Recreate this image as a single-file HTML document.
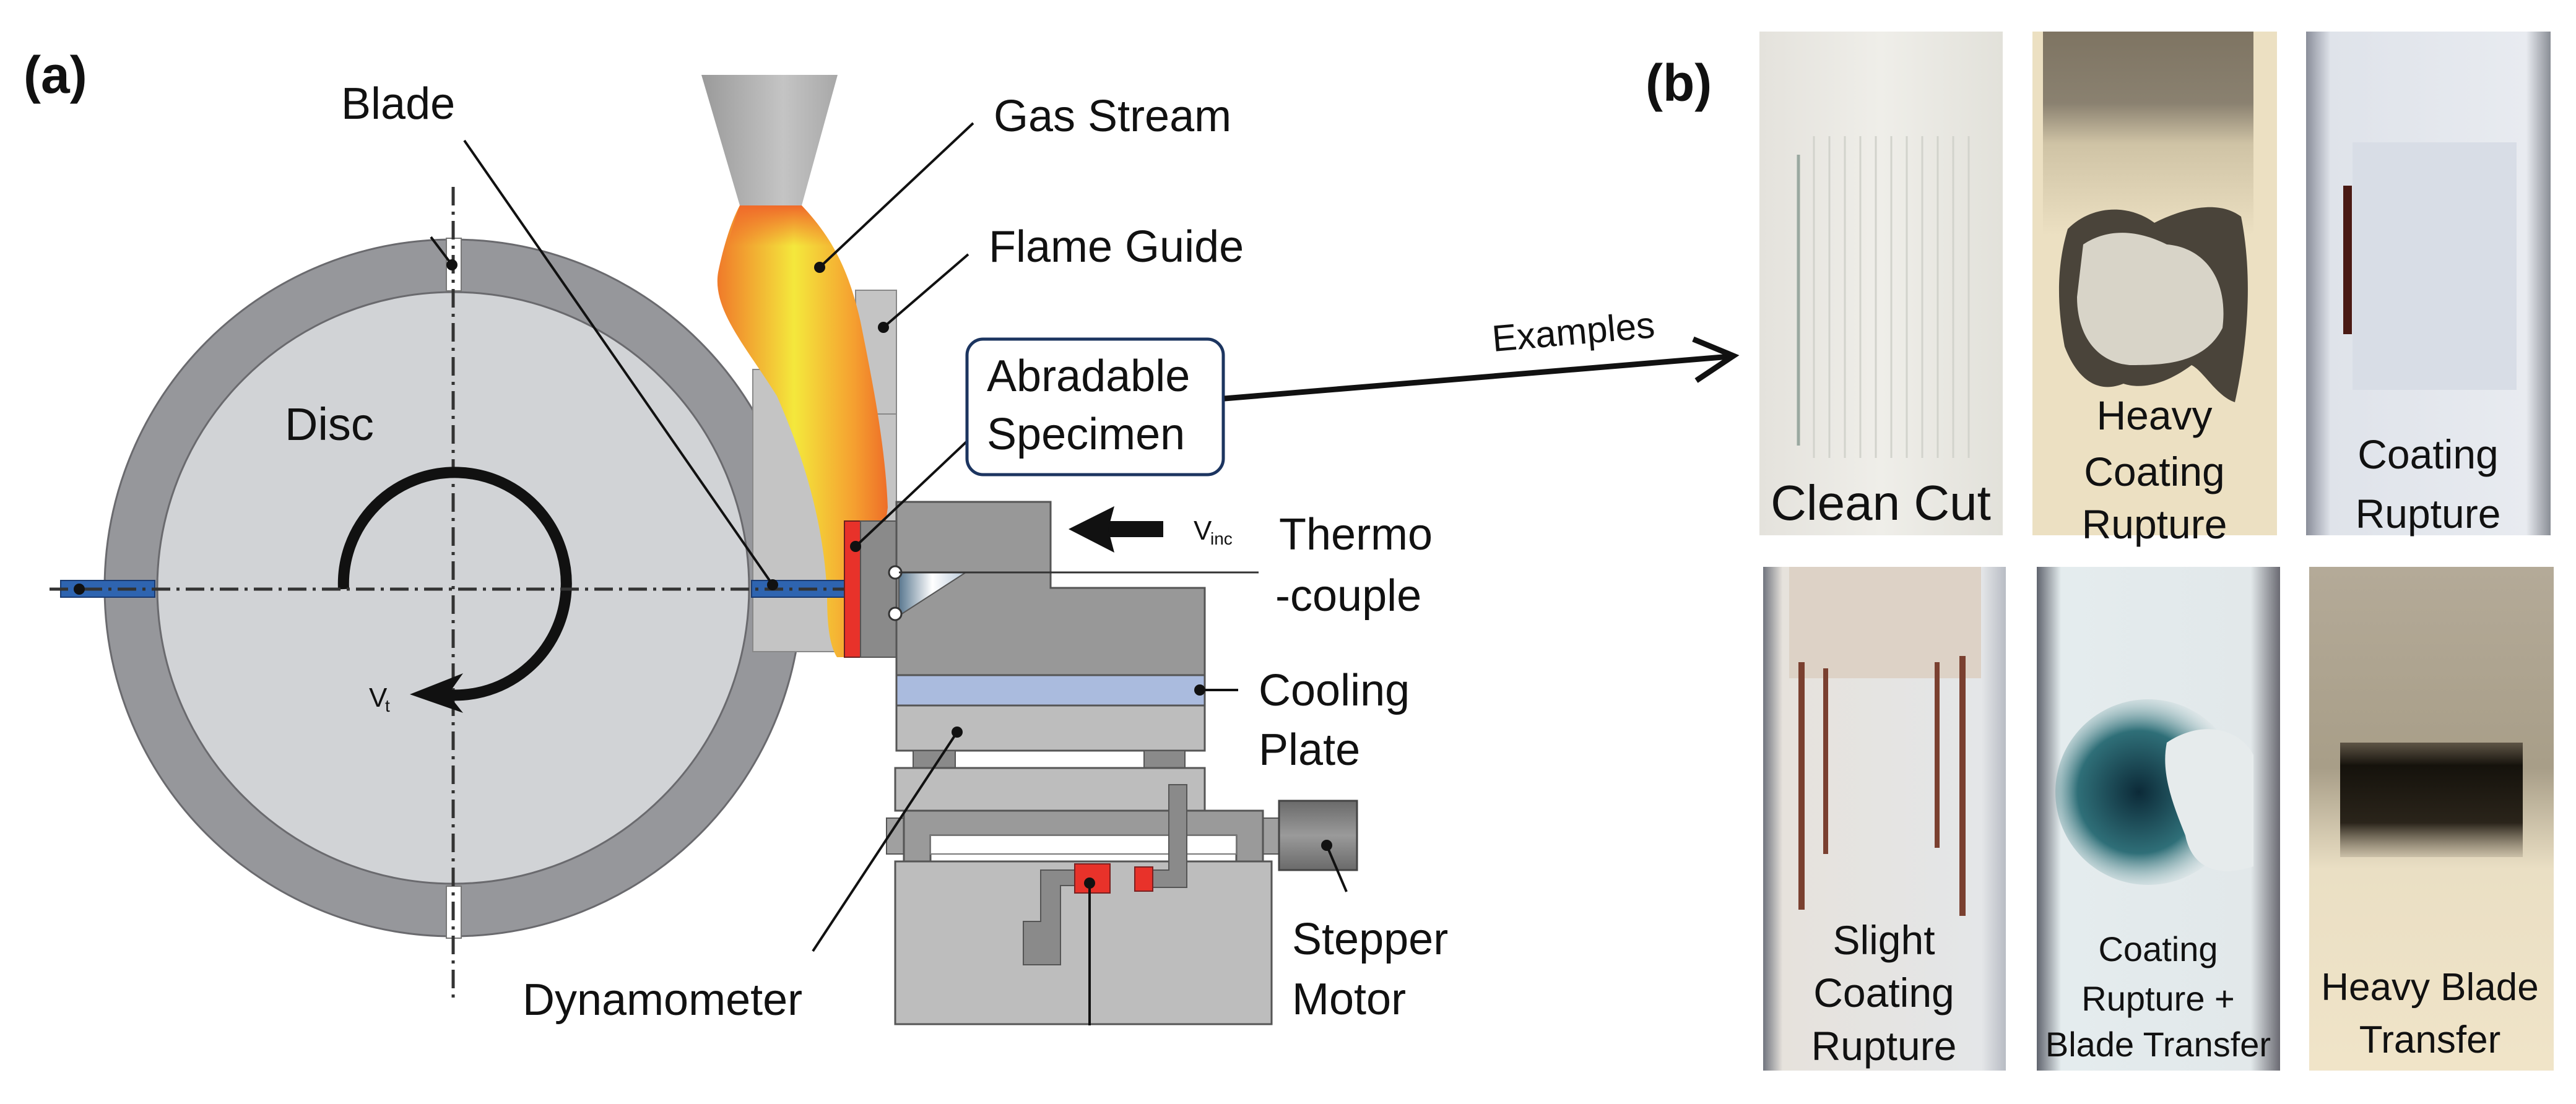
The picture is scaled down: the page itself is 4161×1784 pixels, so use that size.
<!DOCTYPE html>
<html><head><meta charset="utf-8"><style>
html,body{margin:0;padding:0;background:#fff;}
svg{display:block;}
text{font-family:"Liberation Sans",sans-serif;fill:#111;}
</style></head><body>
<svg width="4161" height="1784" viewBox="0 0 4161 1784" xmlns="http://www.w3.org/2000/svg">
<defs>
<linearGradient id="noz" x1="0" x2="1" y1="0" y2="0"><stop offset="0" stop-color="#9a9a9a"/><stop offset="0.6" stop-color="#c4c4c4"/><stop offset="1" stop-color="#a8a8a8"/></linearGradient>
<linearGradient id="flame" x1="0" x2="1" y1="0" y2="0"><stop offset="0" stop-color="#f07a2a"/><stop offset="0.45" stop-color="#f4e83c"/><stop offset="0.8" stop-color="#f5a030"/><stop offset="1" stop-color="#ee6e28"/></linearGradient>
<linearGradient id="flameV" x1="0" x2="0" y1="0" y2="1"><stop offset="0" stop-color="#f06a2a" stop-opacity="1"/><stop offset="0.35" stop-color="#f06a2a" stop-opacity="0"/></linearGradient>
<linearGradient id="tc" x1="0" x2="1"><stop offset="0" stop-color="#5a7890"/><stop offset="0.5" stop-color="#ffffff"/><stop offset="1" stop-color="#b8c8d8"/></linearGradient>
<linearGradient id="mot" x1="0" x2="0" y1="0" y2="1"><stop offset="0" stop-color="#6a6a6a"/><stop offset="0.5" stop-color="#9a9a9a"/><stop offset="1" stop-color="#6a6a6a"/></linearGradient>
<linearGradient id="p1" x1="0" x2="1"><stop offset="0" stop-color="#e4e2dc"/><stop offset="0.5" stop-color="#efeee9"/><stop offset="1" stop-color="#e2e1da"/></linearGradient>
<linearGradient id="p2" x1="0" x2="0" y1="0" y2="1"><stop offset="0" stop-color="#7e7462"/><stop offset="0.35" stop-color="#8a8170"/><stop offset="0.55" stop-color="#cfc3a5"/><stop offset="1" stop-color="#ece0c2"/></linearGradient>
<linearGradient id="p3" x1="0" x2="1"><stop offset="0" stop-color="#8a8e9a"/><stop offset="0.1" stop-color="#dfe3ea"/><stop offset="0.9" stop-color="#e8ebf0"/><stop offset="1" stop-color="#8a8e96"/></linearGradient>
<linearGradient id="p4" x1="0" x2="1"><stop offset="0" stop-color="#70747e"/><stop offset="0.08" stop-color="#e6e2dc"/><stop offset="0.9" stop-color="#e4e6e8"/><stop offset="1" stop-color="#b8bcc4"/></linearGradient>
<linearGradient id="p5" x1="0" x2="1"><stop offset="0" stop-color="#60646e"/><stop offset="0.1" stop-color="#e4ecee"/><stop offset="0.88" stop-color="#e2e8ea"/><stop offset="1" stop-color="#6a6a72"/></linearGradient>
<linearGradient id="p6" x1="0" x2="0" y1="0" y2="1"><stop offset="0" stop-color="#b4aa98"/><stop offset="0.4" stop-color="#a89e88"/><stop offset="0.6" stop-color="#eadfc4"/><stop offset="1" stop-color="#f0e4c8"/></linearGradient>
<radialGradient id="teal" cx="0.45" cy="0.5" r="0.55"><stop offset="0" stop-color="#0c2a38"/><stop offset="0.6" stop-color="#2f6f78"/><stop offset="1" stop-color="#a8c6c8" stop-opacity="0"/></radialGradient>
<linearGradient id="band" x1="0" x2="0" y1="0" y2="1"><stop offset="0" stop-color="#2a2218" stop-opacity="0.6"/><stop offset="0.2" stop-color="#15120c"/><stop offset="0.7" stop-color="#2a241a"/><stop offset="1" stop-color="#6a6050" stop-opacity="0.2"/></linearGradient>
</defs>

<text x="38" y="150" font-size="84" font-weight="bold">(a)</text>

<!-- Disc -->
<circle cx="732" cy="950" r="563" fill="#96979b" stroke="#6a6a6e" stroke-width="3"/>
<circle cx="732" cy="950" r="478" fill="#d1d3d6" stroke="#6a6a6e" stroke-width="3"/>
<rect x="721" y="385" width="24" height="85" fill="#fff" stroke="#777" stroke-width="2"/>
<rect x="721" y="1432" width="24" height="84" fill="#fff" stroke="#777" stroke-width="2"/>
<line x1="732" y1="302" x2="732" y2="1615" stroke="#333" stroke-width="5" stroke-dasharray="30 10 5 10"/>
<text x="460" y="711" font-size="74">Disc</text>
<path d="M 555 952 A 180 180 0 1 1 700 1120" fill="none" stroke="#111" stroke-width="18"/>
<polygon points="662,1122 748,1088 724,1122 748,1152" fill="#111"/>
<text x="596" y="1142" font-size="44" fill="#555">V</text><text x="622" y="1150" font-size="28" fill="#555">t</text>

<!-- Flame guide -->
<rect x="1216" y="597" width="232" height="456" fill="#c4c4c4" stroke="#888" stroke-width="2"/>
<rect x="1382" y="469" width="66" height="200" fill="#c4c4c4" stroke="#888" stroke-width="2"/>
<polygon points="1133,121 1353,121 1295,332 1195,332" fill="url(#noz)"/>
<path d="M1195,332 L1295,332 C1340,380 1370,430 1390,520 C1410,620 1430,720 1434,820 L1400,1062 L1352,1062 C1338,1040 1336,1000 1336,960 C1330,830 1290,720 1255,640 C1205,560 1150,500 1160,440 C1170,390 1185,350 1195,332 Z" fill="url(#flame)"/>
<path d="M1195,332 L1295,332 C1340,380 1370,430 1390,520 L1160,520 C1160,450 1180,370 1195,332 Z" fill="url(#flameV)"/>

<!-- blades -->
<rect x="98" y="938" width="152" height="27" fill="#2e64b0" stroke="#1a3a70" stroke-width="2"/>
<rect x="1214" y="938" width="152" height="27" fill="#2e64b0" stroke="#1a3a70" stroke-width="2"/>
<line x1="80" y1="952" x2="1450" y2="952" stroke="#333" stroke-width="5" stroke-dasharray="30 10 5 10"/>

<rect x="1364" y="842" width="26" height="220" fill="#e8322a" stroke="#6a2020" stroke-width="2"/>
<rect x="1390" y="842" width="58" height="220" fill="#8a8a8a" stroke="#555" stroke-width="2"/>
<path d="M1448,811 L1697,811 L1697,950 L1946,950 L1946,1091 L1448,1091 Z" fill="#989898" stroke="#555" stroke-width="3"/>
<polygon points="1452,925 1560,925 1452,995" fill="url(#tc)" stroke="#555" stroke-width="2"/>
<circle cx="1446" cy="925" r="10" fill="#fff" stroke="#333" stroke-width="3"/>
<circle cx="1446" cy="992" r="10" fill="#fff" stroke="#333" stroke-width="3"/>
<line x1="1452" y1="925" x2="2033" y2="925" stroke="#333" stroke-width="3"/>
<rect x="1448" y="1091" width="498" height="49" fill="#aabbde" stroke="#555" stroke-width="3"/>
<rect x="1448" y="1140" width="498" height="73" fill="#bdbdbd" stroke="#555" stroke-width="3"/>
<rect x="1475" y="1213" width="68" height="28" fill="#8a8a8a" stroke="#555" stroke-width="2"/>
<rect x="1848" y="1213" width="66" height="28" fill="#8a8a8a" stroke="#555" stroke-width="2"/>
<rect x="1446" y="1241" width="500" height="69" fill="#bdbdbd" stroke="#555" stroke-width="3"/>
<rect x="1432" y="1322" width="28" height="58" fill="#a0a0a0" stroke="#555" stroke-width="2"/>
<rect x="2040" y="1322" width="29" height="58" fill="#a0a0a0" stroke="#555" stroke-width="2"/>
<path d="M1460,1310 L2040,1310 L2040,1392 L1997,1392 L1997,1350 L1503,1350 L1503,1392 L1460,1392 Z" fill="#9a9a9a" stroke="#555" stroke-width="3"/>
<rect x="1503" y="1350" width="494" height="30" fill="#fff" stroke="#777" stroke-width="2"/>
<rect x="2066" y="1294" width="126" height="112" fill="url(#mot)" stroke="#444" stroke-width="3"/>
<rect x="1446" y="1392" width="608" height="263" fill="#bdbdbd" stroke="#555" stroke-width="3"/>
<path d="M1888,1268 L1917,1268 L1917,1434 L1862,1434 L1862,1406 L1888,1406 Z" fill="#8a8a8a" stroke="#555" stroke-width="2"/>
<path d="M1681,1406 L1739,1406 L1739,1431 L1713,1431 L1713,1559 L1653,1559 L1653,1489 L1681,1489 Z" fill="#8a8a8a" stroke="#555" stroke-width="2"/>
<rect x="1736" y="1396" width="57" height="47" fill="#e8322a" stroke="#7a2020" stroke-width="2"/>
<rect x="1833" y="1401" width="29" height="39" fill="#e8322a" stroke="#7a2020" stroke-width="2"/>
<line x1="1760" y1="1427" x2="1760" y2="1657" stroke="#111" stroke-width="4"/>

<g stroke="#111" stroke-width="4" fill="none">
<line x1="750" y1="227" x2="1248" y2="945"/>
<line x1="696" y1="383" x2="730" y2="428"/>
<line x1="1572" y1="199" x2="1324" y2="432"/>
<line x1="1564" y1="411" x2="1427" y2="529"/>
<line x1="1562" y1="713" x2="1382" y2="883"/>
<line x1="1946" y1="1115" x2="2000" y2="1115"/>
<line x1="1313" y1="1537" x2="1546" y2="1183"/>
<line x1="2175" y1="1441" x2="2143" y2="1366"/>
</g>
<g fill="#111">
<circle cx="1248" cy="945" r="9"/><circle cx="730" cy="428" r="9"/><circle cx="1324" cy="432" r="9"/>
<circle cx="1427" cy="529" r="9"/><circle cx="1382" cy="883" r="9"/><circle cx="1938" cy="1115" r="9"/>
<circle cx="1546" cy="1183" r="9"/><circle cx="2143" cy="1366" r="9"/><circle cx="1760" cy="1427" r="9"/>
<circle cx="128" cy="952" r="9"/>
</g>
<rect x="1775" y="842" width="104" height="26" fill="#111"/>
<polygon points="1726,855 1800,818 1790,855 1800,893" fill="#111"/>
<text x="1928" y="872" font-size="44" fill="#666">V</text><text x="1955" y="880" font-size="28" fill="#666">inc</text>

<rect x="1562" y="548" width="414" height="219" rx="26" fill="#fff" stroke="#1c3560" stroke-width="5"/>
<text x="1594" y="632" font-size="72">Abradable</text>
<text x="1594" y="726" font-size="72">Specimen</text>
<line x1="1978" y1="644" x2="2795" y2="576" stroke="#111" stroke-width="9"/>
<polyline points="2735,548 2800,575 2740,615" fill="none" stroke="#111" stroke-width="9"/>
<text x="2412" y="568" font-size="60" transform="rotate(-5 2412 568)">Examples</text>

<text x="551" y="192" font-size="72">Blade</text>
<text x="1605" y="212" font-size="72">Gas Stream</text>
<text x="1597" y="423" font-size="72">Flame Guide</text>
<text x="2066" y="888" font-size="72">Thermo</text>
<text x="2060" y="987" font-size="72">-couple</text>
<text x="2033" y="1140" font-size="72">Cooling</text>
<text x="2033" y="1236" font-size="72">Plate</text>
<text x="844" y="1640" font-size="72">Dynamometer</text>
<text x="2087" y="1542" font-size="72">Stepper</text>
<text x="2087" y="1639" font-size="72">Motor</text>

<text x="2658" y="163" font-size="84" font-weight="bold">(b)</text>

<rect x="2842" y="51" width="393" height="814" fill="url(#p1)"/>
<g stroke="#d2d3cc" stroke-width="3">
<line x1="2905" y1="250" x2="2905" y2="720" stroke="#9aa8a0" stroke-width="5"/>
<line x1="2930" y1="220" x2="2930" y2="740"/><line x1="2955" y1="220" x2="2955" y2="740"/><line x1="2980" y1="220" x2="2980" y2="740"/>
<line x1="3005" y1="220" x2="3005" y2="740"/><line x1="3030" y1="220" x2="3030" y2="740"/><line x1="3055" y1="220" x2="3055" y2="740"/>
<line x1="3080" y1="220" x2="3080" y2="740"/><line x1="3105" y1="220" x2="3105" y2="740"/><line x1="3130" y1="220" x2="3130" y2="740"/>
<line x1="3155" y1="220" x2="3155" y2="740"/><line x1="3180" y1="220" x2="3180" y2="740"/>
</g>
<text x="3038" y="840" font-size="80" text-anchor="middle">Clean Cut</text>

<rect x="3283" y="51" width="395" height="814" fill="#ece0c2"/>
<rect x="3300" y="51" width="340" height="330" fill="url(#p2)"/>
<path d="M3340,370 C3380,330 3440,330 3480,360 C3520,340 3580,320 3620,350 C3640,450 3630,560 3610,650 C3580,640 3560,600 3540,590 C3500,620 3460,630 3430,620 C3380,640 3350,600 3335,560 C3320,480 3325,420 3340,370 Z" fill="#4a443a"/>
<path d="M3365,395 C3410,365 3460,375 3500,395 C3560,400 3600,450 3590,530 C3560,590 3490,590 3440,590 C3385,585 3355,540 3355,480 Z" fill="#d8d4c8"/>
<text x="3480" y="694" font-size="66" text-anchor="middle">Heavy</text>
<text x="3480" y="785" font-size="66" text-anchor="middle">Coating</text>
<text x="3480" y="870" font-size="66" text-anchor="middle">Rupture</text>

<rect x="3725" y="51" width="395" height="814" fill="url(#p3)"/>
<rect x="3800" y="230" width="265" height="400" fill="#d8dde6"/>
<rect x="3785" y="300" width="14" height="240" fill="#4a1a14"/>
<text x="3922" y="757" font-size="66" text-anchor="middle">Coating</text>
<text x="3922" y="853" font-size="66" text-anchor="middle">Rupture</text>

<rect x="2848" y="916" width="392" height="814" fill="url(#p4)"/>
<rect x="2890" y="916" width="310" height="180" fill="#ddd2c6"/>
<g fill="#7a4030"><rect x="2905" y="1070" width="10" height="400"/><rect x="2945" y="1080" width="8" height="300"/><rect x="3125" y="1070" width="8" height="300"/><rect x="3165" y="1060" width="10" height="420"/></g>
<text x="3043" y="1542" font-size="66" text-anchor="middle">Slight</text>
<text x="3043" y="1627" font-size="66" text-anchor="middle">Coating</text>
<text x="3043" y="1713" font-size="66" text-anchor="middle">Rupture</text>

<rect x="3290" y="916" width="393" height="814" fill="url(#p5)"/>
<ellipse cx="3470" cy="1280" rx="150" ry="150" fill="url(#teal)"/>
<path d="M3500,1200 C3560,1160 3620,1180 3640,1220 L3640,1400 C3580,1420 3540,1400 3530,1350 C3510,1300 3490,1250 3500,1200 Z" fill="#e6ebec"/>
<text x="3486" y="1553" font-size="56" text-anchor="middle">Coating</text>
<text x="3486" y="1633" font-size="56" text-anchor="middle">Rupture +</text>
<text x="3486" y="1707" font-size="56" text-anchor="middle">Blade Transfer</text>

<rect x="3730" y="916" width="395" height="814" fill="url(#p6)"/>
<rect x="3780" y="1200" width="295" height="185" fill="url(#band)"/>
<text x="3925" y="1616" font-size="62" text-anchor="middle">Heavy Blade</text>
<text x="3925" y="1701" font-size="62" text-anchor="middle">Transfer</text>
</svg>
</body></html>
